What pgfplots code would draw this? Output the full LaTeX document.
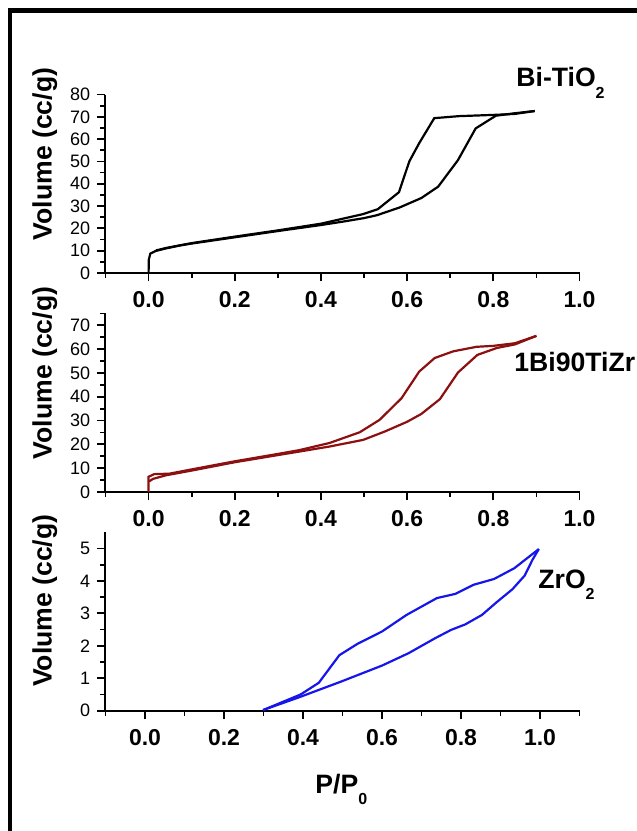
\documentclass[border=0pt]{standalone}
\usepackage{fontspec}
\setmainfont{Liberation Sans}
\usepackage{pgfplots}
\pgfplotsset{compat=1.18}
\definecolor{dred}{RGB}{140,16,16}
\definecolor{vblue}{RGB}{22,22,235}
\newcommand{\lab}{\fontsize{13.3pt}{15pt}\selectfont\bfseries}
\newcommand{\sub}[1]{\raisebox{-0.42em}{\fontsize{8pt}{9pt}\selectfont\bfseries #1}}
\pgfplotsset{panel/.style={
  scale only axis, width=237pt, height=89.25pt, anchor=south west,
  axis x line*=bottom, axis y line*=left,
  axis line style={line width=1pt,-},
  tick align=outside,
  major tick length=4.2pt, minor tick length=2.5pt,
  every tick/.style={line width=0.9pt, black},
  xtick={0,0.2,0.4,0.6,0.8,1.0},
  xticklabels={0.0,0.2,0.4,0.6,0.8,1.0},
  minor xtick={-0.1,0.1,0.3,0.5,0.7,0.9},
  xticklabel style={font=\fontsize{11.5pt}{13pt}\selectfont\bfseries, yshift=-1.5pt},
  yticklabel style={font=\fontsize{9pt}{10pt}\selectfont},
  /pgf/number format/assume math mode=true,
  clip=false,
  every axis y label/.style={at={(axis description cs:-0.128,0.667)}, rotate=90, anchor=center, font=\lab},
  ylabel={Volume (cc/g)},
}}
\begin{document}
\begin{tikzpicture}
\path[use as bounding box] (0,0) rectangle (318.5pt,415.5pt);
\draw[line width=2.3pt] (4.9pt,0) -- (4.9pt,410.2pt) -- (318.5pt,410.2pt);

% Panel 1: Bi-TiO2
\begin{axis}[panel, at={(52.75pt,279pt)}, xmin=-0.1, xmax=1.0, ymin=0, ymax=80,
  ytick={0,10,...,80}, minor ytick={5,15,...,75}]
\addplot[black, line width=1.1pt] coordinates {
(0,0) (0.0005,6) (0.004,8.7) (0.017,9.9) (0.04,11.0) (0.072,12.3) (0.1,13.2) (0.2,16.0) (0.3,18.8) (0.4,21.5) (0.45,23.0) (0.5,24.6) (0.53,25.9) (0.583,29.4) (0.633,33.6) (0.672,38.7) (0.718,50.6) (0.759,64.8) (0.806,70.5) (0.85,71.6) (0.896,72.6)};
\addplot[black, line width=1.1pt] coordinates {
(0.896,72.6) (0.85,71.3) (0.806,70.9) (0.72,70.3) (0.663,69.4) (0.628,58.2) (0.605,50) (0.581,36.2) (0.532,28.6) (0.498,26.4) (0.45,24.3) (0.4,22.1) (0.3,19.1) (0.2,16.3) (0.1,13.4) (0.04,11.2) (0.017,10.1)};
\end{axis}

% Panel 2: 1Bi90TiZr
\begin{axis}[panel, at={(52.75pt,169.5pt)}, xmin=-0.1, xmax=1.0, ymin=0, ymax=75,
  ytick={0,10,...,70}, minor ytick={5,15,...,75}]
\addplot[dred, line width=1.1pt] coordinates {
(0,0) (0,6.4) (0.013,7.5) (0.048,7.7) (0.1,9.5) (0.2,12.9) (0.3,16.0) (0.35,17.6) (0.42,20.6) (0.49,25.1) (0.536,30.3) (0.587,39.4) (0.628,50.6) (0.664,56.3) (0.707,59.1) (0.761,61.0) (0.8,61.4) (0.85,62.5) (0.9,65.6)};
\addplot[dred, line width=1.1pt] coordinates {
(0.9,65.6) (0.85,62.0) (0.808,60.5) (0.763,57.6) (0.718,50.2) (0.676,39.0) (0.633,32.8) (0.6,29.5) (0.548,25.4) (0.498,21.9) (0.42,19.1) (0.35,17.0) (0.3,15.5) (0.2,12.5) (0.1,9.0) (0.04,7.0) (0.01,5.5) (0.001,4.4)};
\end{axis}

% Panel 3: ZrO2
\begin{axis}[panel, at={(52.75pt,60.15pt)}, xmin=-0.1, xmax=1.1, ymin=0, ymax=5.5,
  ytick={0,1,2,3,4,5}, minor ytick={0.5,1.5,2.5,3.5,4.5},
  minor xtick={-0.1,0.1,0.3,0.5,0.7,0.9,1.1},
  every axis y label/.style={at={(axis description cs:-0.128,0.616)}, rotate=90, anchor=center, font=\lab}]
\addplot[vblue, line width=1.1pt] coordinates {
(0.299,0.02) (0.394,0.43) (0.497,0.9) (0.6,1.39) (0.667,1.77) (0.734,2.23) (0.775,2.49) (0.811,2.66) (0.853,2.95) (0.889,3.33) (0.93,3.74) (0.961,4.16) (0.981,4.65) (0.997,4.98)};
\addplot[vblue, line width=1.1pt] coordinates {
(0.997,4.98) (0.935,4.39) (0.884,4.06) (0.832,3.88) (0.786,3.6) (0.739,3.47) (0.662,2.95) (0.6,2.44) (0.538,2.06) (0.492,1.71) (0.44,0.86) (0.394,0.5) (0.299,0.02)};
\end{axis}

\node[anchor=base west, inner sep=0pt, font=\lab] at (258pt,372pt) {Bi-TiO\sub{2}};
\node[anchor=base west, inner sep=0pt, font=\lab] at (257pt,229.5pt) {1Bi90TiZr};
\node[anchor=base west, inner sep=0pt, font=\lab] at (269pt,121.3pt) {ZrO\sub{2}};
\node[anchor=base west, inner sep=0pt, font=\lab] at (157.5pt,19pt) {P/P\sub{0}};
\end{tikzpicture}
\end{document}
